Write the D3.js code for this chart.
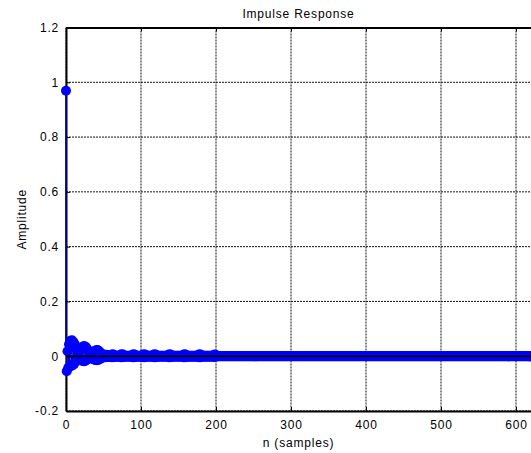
<!DOCTYPE html>
<html>
<head>
<meta charset="utf-8">
<script src="https://cdn.jsdelivr.net/npm/d3@7"></script>
<style>
    body { margin: 0; background: #fff; }
    #chart-area { width: 531px; height: 453px; }
    text { font-family: "Liberation Sans", Arial, sans-serif; font-size: 12px; letter-spacing: 0.8px; fill: #000; }
</style>
</head>
<body>
<div id="chart-area"></div>
<script>
// impulse response h[n], n = 0..200
const hHead = [
    0.969, -0.055, 0.018, -0.042, 0.044, -0.036, 0.056, -0.036, 0.058, -0.033,
    0.052, -0.027, 0.042, -0.018, 0.028, -0.010, 0.016, -0.008, 0.018, -0.012,
    0.027, -0.016, 0.034, -0.018, 0.037, -0.018, 0.035, -0.015, 0.028, -0.010,
    0.018, -0.006, 0.010, -0.006, 0.010, -0.009, 0.015, -0.012, 0.019, -0.014,
    0.022, -0.015, 0.023, -0.014, 0.019, -0.011, 0.013, -0.007, 0.008, -0.005,
    0.004, -0.004, 0.005, -0.004, 0.005, -0.003, 0.004, -0.003, 0.003, -0.003,
    0.004, -0.004, 0.007, -0.004, 0.005, -0.003, 0.002, -0.002, 0.002, -0.002,
    0.002, -0.002, 0.004, -0.004, 0.007, -0.004, 0.006, -0.003, 0.002, -0.002,
    0.002, -0.002, 0.002, -0.002, 0.002, -0.002, 0.002, -0.002, 0.004, -0.004,
    0.007, -0.004, 0.005, -0.003, 0.002, -0.002, 0.002, -0.002, 0.002, -0.002,
    0.002, -0.002, 0.004, -0.004, 0.007, -0.004, 0.005, -0.003, 0.002, -0.002,
    0.002, -0.002, 0.002, -0.002, 0.002, -0.002, 0.004, -0.004, 0.007, -0.004,
    0.005, -0.003, 0.002, -0.002, 0.002, -0.002, 0.002, -0.002, 0.002, -0.002,
    0.002, -0.002, 0.002, -0.002, 0.002, -0.002, 0.004, -0.004, 0.007, -0.004,
    0.005, -0.003, 0.002, -0.002, 0.002, -0.002, 0.002, -0.002, 0.002, -0.002,
    0.002, -0.002, 0.002, -0.002, 0.002, -0.002, 0.004, -0.004, 0.007, -0.004,
    0.005, -0.003, 0.002, -0.002, 0.002, -0.002, 0.002, -0.002, 0.002, -0.002,
    0.002, -0.002, 0.002, -0.002, 0.002, -0.002, 0.004, -0.004, 0.007, -0.004,
    0.005, -0.003, 0.002, -0.002, 0.002, -0.002, 0.002, -0.002, 0.002, -0.002,
    0.002, -0.002, 0.002, -0.002, 0.002, -0.002, 0.003, -0.003, 0.006, -0.003,
    0.004
];

// n = 201..650, response has died out
const hTail = [
    0,0,0,0,0,0,0,0,0,0,0,0,0,0,0,0,0,0,0,0,0,0,0,0,0,0,0,0,0,0,
    0,0,0,0,0,0,0,0,0,0,0,0,0,0,0,0,0,0,0,0,0,0,0,0,0,0,0,0,0,0,
    0,0,0,0,0,0,0,0,0,0,0,0,0,0,0,0,0,0,0,0,0,0,0,0,0,0,0,0,0,0,
    0,0,0,0,0,0,0,0,0,0,0,0,0,0,0,0,0,0,0,0,0,0,0,0,0,0,0,0,0,0,
    0,0,0,0,0,0,0,0,0,0,0,0,0,0,0,0,0,0,0,0,0,0,0,0,0,0,0,0,0,0,
    0,0,0,0,0,0,0,0,0,0,0,0,0,0,0,0,0,0,0,0,0,0,0,0,0,0,0,0,0,0,
    0,0,0,0,0,0,0,0,0,0,0,0,0,0,0,0,0,0,0,0,0,0,0,0,0,0,0,0,0,0,
    0,0,0,0,0,0,0,0,0,0,0,0,0,0,0,0,0,0,0,0,0,0,0,0,0,0,0,0,0,0,
    0,0,0,0,0,0,0,0,0,0,0,0,0,0,0,0,0,0,0,0,0,0,0,0,0,0,0,0,0,0,
    0,0,0,0,0,0,0,0,0,0,0,0,0,0,0,0,0,0,0,0,0,0,0,0,0,0,0,0,0,0,
    0,0,0,0,0,0,0,0,0,0,0,0,0,0,0,0,0,0,0,0,0,0,0,0,0,0,0,0,0,0,
    0,0,0,0,0,0,0,0,0,0,0,0,0,0,0,0,0,0,0,0,0,0,0,0,0,0,0,0,0,0,
    0,0,0,0,0,0,0,0,0,0,0,0,0,0,0,0,0,0,0,0,0,0,0,0,0,0,0,0,0,0,
    0,0,0,0,0,0,0,0,0,0,0,0,0,0,0,0,0,0,0,0,0,0,0,0,0,0,0,0,0,0,
    0,0,0,0,0,0,0,0,0,0,0,0,0,0,0,0,0,0,0,0,0,0,0,0,0,0,0,0,0,0
];

const xTicks = [0, 100, 200, 300, 400, 500, 600];
const yTicks = [-0.2, 0, 0.2, 0.4, 0.6, 0.8, 1, 1.2];

const title = "Impulse Response";
const xLabel = "n (samples)";
const yLabel = "Amplitude";

let data = hHead.concat(hTail).map((v, i) => ({ n: i, h: v }));

let margin = { top: 27.5, right: 0, bottom: 42, left: 66 };
let width = 531, height = 453;

let svg = d3.select("#chart-area")
    .append("svg")
    .attr("width", width)
    .attr("height", height);

let x = d3.scaleLinear()
    .domain([0, 620])
    .range([margin.left, 531]);

let y = d3.scaleLinear()
    .domain([-0.2, 1.2])
    .range([height - margin.bottom, margin.top]);

// only clip the right side, markers at n=0 hang over the left axis
svg.append("clipPath")
    .attr("id", "plot")
    .append("rect")
    .attr("x", 0)
    .attr("y", 0)
    .attr("width", x(620))
    .attr("height", height);

// grid (dotted like matlab)
svg.append("g")
    .selectAll("line")
    .data(xTicks)
    .enter()
    .append("line")
    .attr("x1", d => x(d)).attr("x2", d => x(d))
    .attr("y1", y(1.2)).attr("y2", y(-0.2))
    .attr("stroke", "#111")
    .attr("stroke-width", 1)
    .style("stroke-dasharray", "2,1");

svg.append("g")
    .selectAll("line")
    .data(yTicks)
    .enter()
    .append("line")
    .attr("x1", x(0)).attr("x2", x(620))
    .attr("y1", d => y(d)).attr("y2", d => y(d))
    .attr("stroke", "#111")
    .attr("stroke-width", 1)
    .style("stroke-dasharray", "2,1");

// axes: matlab style, ticks inside
let xAxisBottom = d3.axisBottom(x).tickValues(xTicks).tickSizeInner(-4).tickSizeOuter(0).tickPadding(9).tickFormat(d => d);
let xAxisTop = d3.axisTop(x).tickValues(xTicks).tickSizeInner(-4).tickSizeOuter(0).tickFormat("");
let yAxisLeft = d3.axisLeft(y).tickValues(yTicks).tickSizeInner(-4).tickSizeOuter(0).tickPadding(7).tickFormat(d => d);

svg.append("g")
    .attr("class", "axis x-axis")
    .attr("transform", "translate(0," + y(-0.2) + ")")
    .call(xAxisBottom);

svg.append("g")
    .attr("class", "axis x-axis-top")
    .attr("transform", "translate(0," + y(1.2) + ")")
    .call(xAxisTop);

svg.append("g")
    .attr("class", "axis y-axis")
    .attr("transform", "translate(" + x(0) + ",0)")
    .call(yAxisLeft);

svg.selectAll(".axis path.domain").attr("stroke", "#000").attr("stroke-width", 2);
svg.selectAll(".axis .tick line").attr("stroke", "#000");
svg.selectAll(".axis text")
    .style("font-family", '"Liberation Sans", Arial, sans-serif')
    .style("font-size", "12px")
    .style("letter-spacing", "0.8px")
    .attr("fill", "#000");

// stems + markers
let plot = svg.append("g").attr("clip-path", "url(#plot)");

plot.selectAll("line.stem")
    .data(data)
    .enter()
    .append("line")
    .attr("class", "stem")
    .attr("x1", d => x(d.n)).attr("x2", d => x(d.n))
    .attr("y1", y(0)).attr("y2", d => y(d.h))
    .attr("stroke", "#0000b4")
    .attr("stroke-width", 1.5);

plot.selectAll("circle.dot")
    .data(data)
    .enter()
    .append("circle")
    .attr("class", "dot")
    .attr("cx", d => x(d.n))
    .attr("cy", d => y(d.h))
    .attr("r", 5)
    .attr("fill", "#0000ff");

// baseline on top
plot.append("line")
    .attr("x1", x(0)).attr("x2", x(620))
    .attr("y1", y(0)).attr("y2", y(0))
    .attr("stroke", "#000010")
    .attr("stroke-width", 2);

// labels
svg.append("text")
    .attr("x", (x(0) + x(620)) / 2)
    .attr("y", 18)
    .attr("text-anchor", "middle")
    .text(title);

svg.append("text")
    .attr("x", (x(0) + x(620)) / 2)
    .attr("y", 447)
    .attr("text-anchor", "middle")
    .text(xLabel);

svg.append("text")
    .attr("transform", "rotate(-90)")
    .attr("x", -(y(1.2) + y(-0.2)) / 2)
    .attr("y", 26)
    .attr("text-anchor", "middle")
    .text(yLabel);
</script>
</body>
</html>
